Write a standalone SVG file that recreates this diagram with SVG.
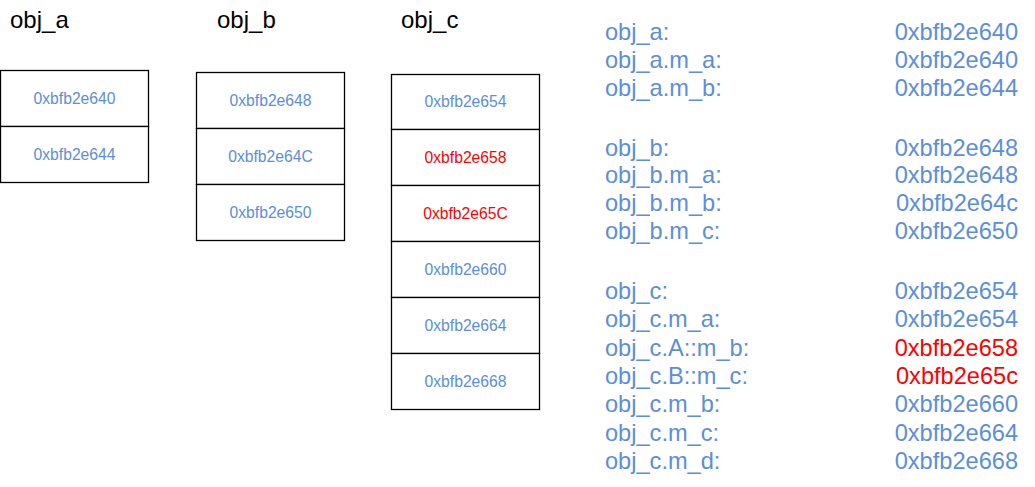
<svg xmlns="http://www.w3.org/2000/svg" width="1035" height="487" viewBox="0 0 1035 487">
<style>
text{font-family:"Liberation Sans",Arial,sans-serif}
.title{font-size:24px;fill:#000}
.cell{fill:#fff;stroke:#000;stroke-width:1.3}
.ct{font-size:15.7px;fill:#5B8EDC;text-anchor:middle}
.lt{font-size:23.6px;fill:#5B8EDC}
.rt{font-size:23.6px;fill:#5B8EDC;text-anchor:end}
text.red{fill:#FF0000}
</style>
<rect width="1035" height="487" fill="#fff"/>
<g id="obj_a">
<text class="title" x="10" y="28">obj_a</text>
<rect class="cell" x="0.5" y="70.5" width="148" height="56"/>
<rect class="cell" x="0.5" y="126.5" width="148" height="56"/>
<text class="ct" x="74.5" y="103.5">0xbfb2e640</text>
<text class="ct" x="74.5" y="160">0xbfb2e644</text>
</g>
<g id="obj_b">
<text class="title" x="217" y="28">obj_b</text>
<rect class="cell" x="196.5" y="72.5" width="148" height="56"/>
<rect class="cell" x="196.5" y="128.5" width="148" height="56"/>
<rect class="cell" x="196.5" y="184.5" width="148" height="56"/>
<text class="ct" x="270.5" y="105.5">0xbfb2e648</text>
<text class="ct" x="270.5" y="161.5">0xbfb2e64C</text>
<text class="ct" x="270.5" y="217.5">0xbfb2e650</text>
</g>
<g id="obj_c">
<text class="title" x="401" y="28">obj_c</text>
<rect class="cell" x="391.5" y="74.5" width="148" height="55"/>
<rect class="cell" x="391.5" y="129.5" width="148" height="56"/>
<rect class="cell" x="391.5" y="185.5" width="148" height="56"/>
<rect class="cell" x="391.5" y="241.5" width="148" height="56"/>
<rect class="cell" x="391.5" y="297.5" width="148" height="56"/>
<rect class="cell" x="391.5" y="353.5" width="148" height="56"/>
<text class="ct" x="465.5" y="107">0xbfb2e654</text>
<text class="ct red" x="465.5" y="162.5">0xbfb2e658</text>
<text class="ct red" x="465.5" y="218.5">0xbfb2e65C</text>
<text class="ct" x="465.5" y="274.5">0xbfb2e660</text>
<text class="ct" x="465.5" y="330.5">0xbfb2e664</text>
<text class="ct" x="465.5" y="386.5">0xbfb2e668</text>
</g>
<g id="addresses">
<text class="lt" x="605" y="39.5">obj_a:</text><text class="rt" x="1018" y="39.5">0xbfb2e640</text>
<text class="lt" x="605" y="67.5">obj_a.m_a:</text><text class="rt" x="1018" y="67.5">0xbfb2e640</text>
<text class="lt" x="605" y="95.5">obj_a.m_b:</text><text class="rt" x="1018" y="95.5">0xbfb2e644</text>
<text class="lt" x="605" y="155.5">obj_b:</text><text class="rt" x="1018" y="155.5">0xbfb2e648</text>
<text class="lt" x="605" y="183.3">obj_b.m_a:</text><text class="rt" x="1018" y="183.3">0xbfb2e648</text>
<text class="lt" x="605" y="211.2">obj_b.m_b:</text><text class="rt" x="1018" y="211.2">0xbfb2e64c</text>
<text class="lt" x="605" y="239">obj_b.m_c:</text><text class="rt" x="1018" y="239">0xbfb2e650</text>
<text class="lt" x="605" y="298.8">obj_c:</text><text class="rt" x="1018" y="298.8">0xbfb2e654</text>
<text class="lt" x="605" y="327.2">obj_c.m_a:</text><text class="rt" x="1018" y="327.2">0xbfb2e654</text>
<text class="lt" x="605" y="355.5">obj_c.A::m_b:</text><text class="rt red" x="1018" y="355.5">0xbfb2e658</text>
<text class="lt" x="605" y="383.8">obj_c.B::m_c:</text><text class="rt red" x="1018" y="383.8">0xbfb2e65c</text>
<text class="lt" x="605" y="412.2">obj_c.m_b:</text><text class="rt" x="1018" y="412.2">0xbfb2e660</text>
<text class="lt" x="605" y="440.5">obj_c.m_c:</text><text class="rt" x="1018" y="440.5">0xbfb2e664</text>
<text class="lt" x="605" y="468.8">obj_c.m_d:</text><text class="rt" x="1018" y="468.8">0xbfb2e668</text>
</g>
</svg>
